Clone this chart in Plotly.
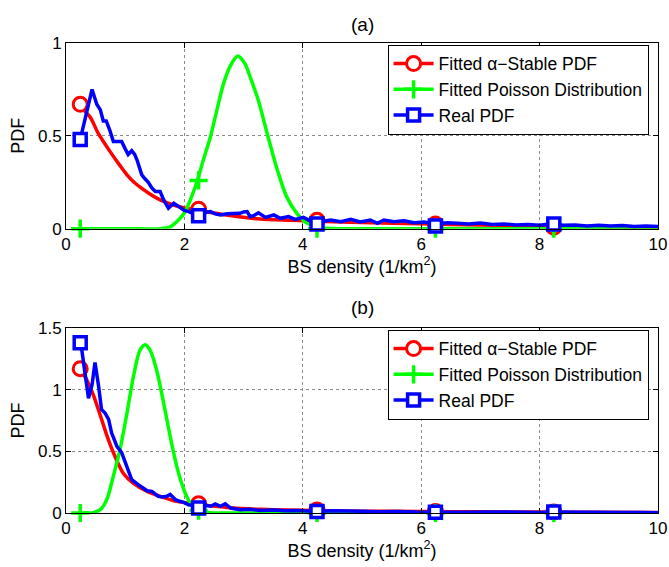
import plotly.graph_objects as go

# ---------------- data: panel (a) ----------------
red_a_x = [0.24, 0.3, 0.41, 0.55, 0.745, 0.9, 1.03, 1.15, 1.31, 1.45, 1.59, 1.75, 1.87, 2.0, 2.24,
           2.5, 2.8, 3.28, 3.8, 4.24, 5.0, 6.0, 7.0, 8.0, 9.0, 10.0]
red_a_y = [0.67, 0.64, 0.60, 0.51, 0.415, 0.345, 0.29, 0.25, 0.21, 0.18, 0.155, 0.135, 0.122, 0.112, 0.10,
           0.085, 0.07, 0.052, 0.045, 0.04, 0.033, 0.026, 0.02, 0.014, 0.011, 0.008]

green_a_x = [0.24, 1.0, 1.6, 1.76, 1.9, 2.01, 2.1, 2.21, 2.32, 2.44, 2.55, 2.66, 2.78, 2.9, 3.02, 3.13,
             3.25, 3.4, 3.57, 3.73, 3.9, 4.07, 4.3, 4.6, 6.0, 8.0, 10.0]
green_a_y = [0.0, 0.0, 0.0, 0.01, 0.047, 0.09, 0.155, 0.25, 0.37, 0.495, 0.64, 0.78, 0.88, 0.93, 0.89, 0.80,
             0.69, 0.51, 0.316, 0.17, 0.083, 0.03, 0.005, 0.0, 0.0, 0.0, 0.0]

blue_a_x = [0.24, 0.34, 0.44, 0.52, 0.58, 0.63, 0.68, 0.74, 0.80, 0.87, 0.94, 1.00, 1.05, 1.11, 1.16, 1.20,
            1.28, 1.33, 1.39, 1.45, 1.51, 1.59, 1.65, 1.73, 1.82, 1.90, 1.99, 2.07, 2.15, 2.24, 2.34, 2.44,
            2.52, 2.61, 2.72, 2.83, 2.94, 3.00, 3.06, 3.11, 3.17, 3.25, 3.37, 3.51, 3.62, 3.76, 3.87, 4.01,
            4.13, 4.24, 4.35, 4.47, 4.64, 4.81, 4.97, 5.14, 5.26, 5.37, 5.54, 5.71, 5.88, 6.05, 6.15, 6.24,
            6.35, 6.44, 6.61, 6.8, 7.0, 7.2, 7.4, 7.6, 7.8, 8.0, 8.1, 8.24, 8.4, 8.6, 8.8, 9.0, 9.2, 9.4,
            9.6, 9.8, 10.0]
blue_a_y = [0.48, 0.62, 0.75, 0.67, 0.64, 0.58, 0.58, 0.53, 0.47, 0.47, 0.47, 0.43, 0.40, 0.42, 0.40, 0.37,
            0.29, 0.27, 0.25, 0.22, 0.20, 0.20, 0.155, 0.11, 0.137, 0.12, 0.10, 0.092, 0.08, 0.07, 0.085, 0.092,
            0.08, 0.074, 0.08, 0.083, 0.083, 0.09, 0.092, 0.065, 0.07, 0.086, 0.061, 0.074, 0.056, 0.065, 0.05, 0.061,
            0.043, 0.025, 0.04, 0.047, 0.038, 0.05, 0.036, 0.047, 0.029, 0.047, 0.038, 0.043, 0.032, 0.036, 0.03, 0.015,
            0.03, 0.032, 0.029, 0.025, 0.03, 0.022, 0.025, 0.02, 0.022, 0.018, 0.022, 0.025, 0.018, 0.02, 0.015, 0.018, 0.014, 0.017,
            0.012, 0.015, 0.012]

marker_x = [0.24, 2.24, 4.24, 6.24, 8.24]
red_a_mk = [0.67, 0.105, 0.045, 0.025, 0.008]
green_a_mk = [0.0, 0.26, 0.0, 0.0, 0.0]
blue_a_mk = [0.48, 0.07, 0.025, 0.015, 0.025]

# ---------------- data: panel (b) ----------------
red_b_x = [0.24, 0.35, 0.46, 0.58, 0.69, 0.80, 0.97, 1.14, 1.37, 1.59, 1.87, 2.24, 2.72, 3.28, 4.24,
           5.0, 6.0, 7.0, 8.0, 9.0, 10.0]
red_b_y = [1.17, 1.08, 0.96, 0.79, 0.63, 0.49, 0.32, 0.24, 0.175, 0.135, 0.094, 0.07, 0.045, 0.03, 0.02,
           0.015, 0.012, 0.01, 0.008, 0.006, 0.005]

green_b_x = [0.24, 0.4, 0.46, 0.58, 0.69, 0.80, 0.91, 1.03, 1.14, 1.25, 1.34, 1.42, 1.53, 1.65, 1.76,
             1.87, 1.99, 2.10, 2.21, 2.4, 2.6, 4.0, 6.0, 8.0, 10.0]
green_b_y = [0.0, 0.0, 0.003, 0.027, 0.11, 0.30, 0.51, 0.81, 1.11, 1.32, 1.365, 1.32, 1.16, 0.89, 0.62,
             0.38, 0.19, 0.08, 0.027, 0.005, 0.0, 0.0, 0.0, 0.0, 0.0]

blue_b_x = [0.25, 0.38, 0.44, 0.49, 0.55, 0.60, 0.66, 0.72, 0.77, 0.86, 0.94, 1.03, 1.11, 1.22, 1.30,
            1.37, 1.45, 1.56, 1.63, 1.70, 1.76, 1.85, 1.92, 1.99, 2.07, 2.15, 2.24, 2.38, 2.45, 2.52,
            2.61, 2.69, 2.78, 2.94, 3.1, 3.28, 3.5, 3.7, 3.9, 4.1, 4.24, 4.5, 4.8, 5.0, 5.3, 5.6, 5.9,
            6.24, 6.5, 6.8, 7.1, 7.4, 7.7, 8.0, 8.24, 8.5, 8.8, 9.1, 9.4, 9.7, 10.0]
blue_b_y = [1.38, 0.93, 1.04, 1.22, 1.03, 0.84, 0.81, 0.76, 0.65, 0.54, 0.49, 0.38, 0.27, 0.23, 0.20,
            0.18, 0.175, 0.135, 0.13, 0.135, 0.15, 0.108, 0.095, 0.086, 0.067, 0.06, 0.04, 0.06, 0.055, 0.073,
            0.054, 0.075, 0.04, 0.027, 0.03, 0.02, 0.025, 0.018, 0.02, 0.015, 0.013, 0.018, 0.012, 0.015, 0.01, 0.013, 0.008,
            0.006, 0.01, 0.007, 0.009, 0.006, 0.008, 0.005, 0.008, 0.006, 0.005, 0.007, 0.004, 0.005, 0.003]

red_b_mk = [1.17, 0.075, 0.025, 0.012, 0.008]
green_b_mk = [0.0, 0.02, 0.0, 0.0, 0.0]
blue_b_mk = [1.38, 0.04, 0.013, 0.006, 0.008]

series_names = ["Fitted α−Stable PDF", "Fitted Poisson Distribution", "Real PDF"]
x_ticks = [0, 2, 4, 6, 8, 10]
y_ticks_a = [0, 0.5, 1]
y_ticks_b = [0, 0.5, 1, 1.5]

RED, GREEN, BLUE = "#ff0000", "#00ff00", "#0000ff"
LW = 3.5
FONT = "Liberation Sans, Arial, sans-serif"

fig = go.Figure()

mk_styles = [
    dict(symbol="circle", size=14, color="white", line=dict(color=RED, width=3)),
    dict(symbol="cross-thin", size=13, color=GREEN, line=dict(color=GREEN, width=3.5)),
    dict(symbol="square", size=12, color="white", line=dict(color=BLUE, width=3.5)),
]
colors = [RED, GREEN, BLUE]


def add_panel(xa, ya, legend_id, curves, marks):
    for i, ((cx, cy), my) in enumerate(zip(curves, marks)):
        shape = "linear" if i == 2 else "spline"
        fig.add_trace(go.Scatter(x=cx, y=cy, mode="lines", xaxis=xa, yaxis=ya,
                                 line=dict(color=colors[i], width=LW, shape=shape, smoothing=0.8),
                                 showlegend=False, hoverinfo="skip"))
        fig.add_trace(go.Scatter(x=marker_x, y=my, mode="markers", xaxis=xa, yaxis=ya,
                                 marker=mk_styles[i], cliponaxis=False,
                                 showlegend=False, hoverinfo="skip"))
    for i in range(3):
        fig.add_trace(go.Scatter(x=[None], y=[None], mode="lines+markers", xaxis=xa, yaxis=ya,
                                 name=series_names[i], legend=legend_id,
                                 line=dict(color=colors[i], width=LW), marker=mk_styles[i]))


add_panel("x", "y", "legend",
          [(red_a_x, red_a_y), (green_a_x, green_a_y), (blue_a_x, blue_a_y)],
          [red_a_mk, green_a_mk, blue_a_mk])
add_panel("x2", "y2", "legend2",
          [(red_b_x, red_b_y), (green_b_x, green_b_y), (blue_b_x, blue_b_y)],
          [red_b_mk, green_b_mk, blue_b_mk])

axis_common = dict(showline=True, linecolor="black", linewidth=1, mirror="ticks",
                   ticks="inside", ticklen=5, tickcolor="black", automargin=False,
                   showgrid=True, gridcolor="#8a8a8a", griddash="dot", gridwidth=1,
                   zeroline=False, tickfont=dict(size=17, color="black", family=FONT))

xlabel = "BS density (1/km<sup>2</sup>)"
fig.update_layout(
    width=669, height=567,
    paper_bgcolor="white", plot_bgcolor="white",
    margin=dict(l=66, r=11, t=43, b=54, autoexpand=False),
    font=dict(family=FONT, color="black", size=17),
    xaxis=dict(domain=[0, 1], anchor="y", range=[0, 10], tickvals=x_ticks,
               title=dict(text=xlabel, font=dict(size=18), standoff=4), **axis_common),
    yaxis=dict(domain=[0.6049, 1], anchor="x", range=[0, 1], tickvals=y_ticks_a,
               title=dict(text="PDF", font=dict(size=18), standoff=8), **axis_common),
    xaxis2=dict(domain=[0, 1], anchor="y2", range=[0, 10], tickvals=x_ticks,
                title=dict(text=xlabel, font=dict(size=18), standoff=4), **axis_common),
    yaxis2=dict(domain=[0, 0.3936], anchor="x2", range=[0, 1.5], tickvals=y_ticks_b,
                title=dict(text="PDF", font=dict(size=18), standoff=8), **axis_common),
    legend=dict(x=0.9841, y=0.9006, xanchor="right", yanchor="middle",
                bgcolor="white", bordercolor="black", borderwidth=1,
                font=dict(size=17.5, family=FONT), tracegroupgap=0, itemwidth=40),
    legend2=dict(x=0.9841, y=0.2943, xanchor="right", yanchor="middle",
                 bgcolor="white", bordercolor="black", borderwidth=1,
                 font=dict(size=17.5, family=FONT), tracegroupgap=0, itemwidth=40),
    annotations=[
        dict(text="(a)", x=0.5, y=1.0404, xref="paper", yref="paper", showarrow=False,
             xanchor="center", yanchor="middle", font=dict(size=19)),
        dict(text="(b)", x=0.5, y=0.4362, xref="paper", yref="paper", showarrow=False,
             xanchor="center", yanchor="middle", font=dict(size=19)),
    ],
)

# Remove the default page margin so the 669x567 figure fills the window exactly.
fig.write_html("out.html", config={"displayModeBar": False},
               post_script="document.body.style.margin='0';document.body.style.overflow='hidden';")
